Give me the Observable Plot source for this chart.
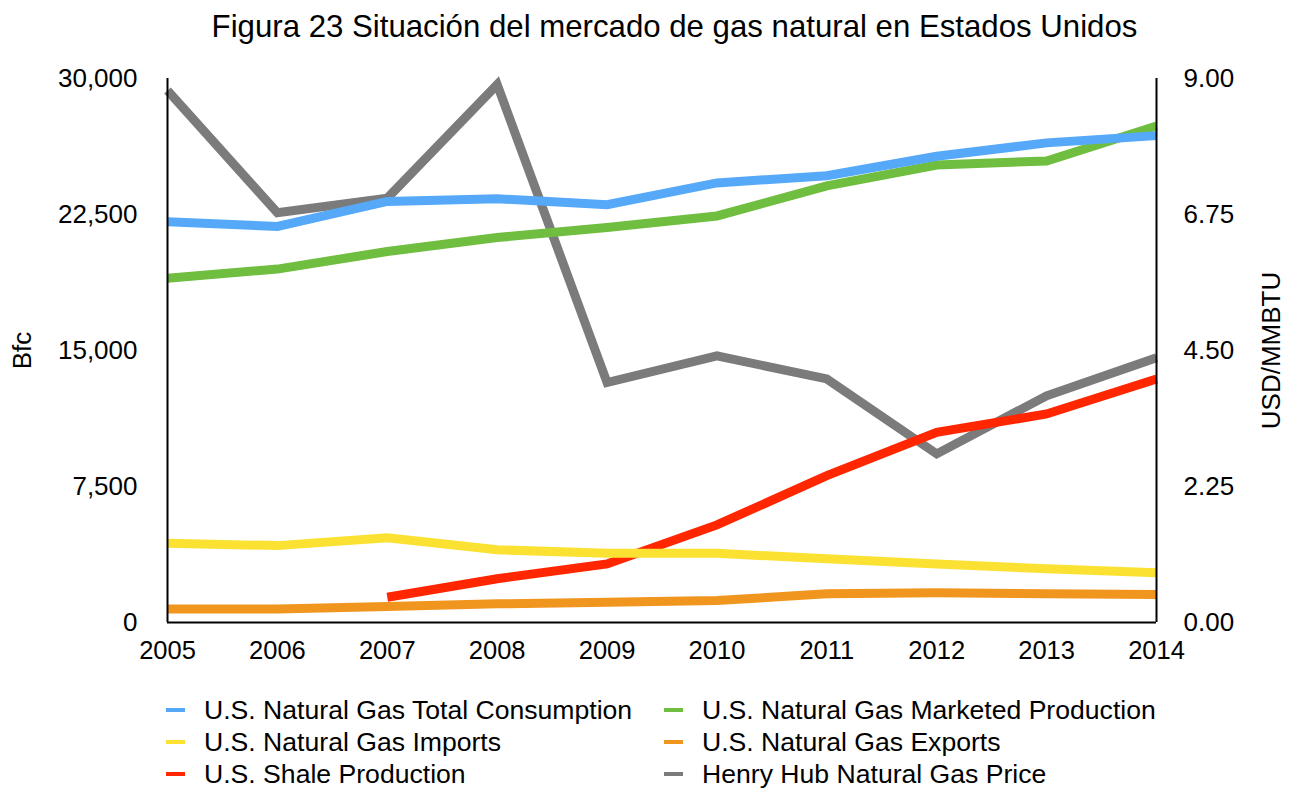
<!DOCTYPE html>
<html>
<head>
<meta charset="utf-8">
<script src="https://cdn.jsdelivr.net/npm/d3@7"></script>
<script src="https://cdn.jsdelivr.net/npm/@observablehq/plot@0.6"></script>
<style>
  body { margin: 0; background: #fff; font-family: "Liberation Sans", Arial, Helvetica, sans-serif; color: #000; }
  #wrap { position: relative; width: 1293px; height: 790px; overflow: hidden; }
  #title { position: absolute; top: 7px; left: 56px; width: 1237px; text-align: center; font-size: 31.2px; line-height: 40px; white-space: nowrap; }
  #chart { position: absolute; top: 56px; left: 0; }
  .lg { position: absolute; height: 32px; display: flex; align-items: center; font-size: 26.6px; white-space: nowrap; }
  .lg .sw { width: 19px; height: 4px; margin-right: 19px; }
</style>
</head>
<body>
<div id="wrap">
  <div id="title">Figura 23 Situación del mercado de gas natural en Estados Unidos</div>
  <div id="chart"></div>
  <div id="legend"></div>
</div>
<script>
// ---- Data ----
const years = [2005, 2006, 2007, 2008, 2009, 2010, 2011, 2012, 2013, 2014];
// Bfc (left axis)
const consumption = [22100, 21840, 23220, 23370, 23040, 24240, 24640, 25710, 26450, 26850];
const production  = [18990, 19490, 20460, 21230, 21780, 22420, 24080, 25230, 25450, 27380];
const imports     = [4370, 4240, 4670, 4010, 3820, 3820, 3510, 3230, 2960, 2740];
const exportsBfc  = [750, 750, 880, 1030, 1120, 1210, 1580, 1640, 1580, 1540];
const shale       = [null, null, 1390, 2410, 3230, 5380, 8100, 10490, 11500, 13430];
// USD/MMBTU (right axis)
const henryHub    = [8.80, 6.78, 7.02, 8.90, 3.97, 4.41, 4.03, 2.79, 3.75, 4.38];

const leftTicks = [0, 7500, 15000, 22500, 30000];
const rightTicks = [0, 2.25, 4.5, 6.75, 9];
const leftMax = 30000, rightMax = 9;

const seriesNames = [
  "U.S. Natural Gas Total Consumption",
  "U.S. Natural Gas Marketed Production",
  "U.S. Natural Gas Imports",
  "U.S. Natural Gas Exports",
  "U.S. Shale Production",
  "Henry Hub Natural Gas Price"
];
const seriesColors = ["#55a9f8", "#6fbe3f", "#fbe232", "#f0961f", "#ff2600", "#7b7b7b"];

// ---- Build tables ----
const toRows = (vals, scale = 1) => years.map((year, i) => ({year, value: vals[i] == null ? null : vals[i] * scale}));
const k = leftMax / rightMax; // map price onto left scale
const seriesData = [consumption, production, imports, exportsBfc, shale, henryHub];
const tables = seriesData.map((vals, i) => toRows(vals, i === 5 ? k : 1));

// drawing order bottom -> top
const drawOrder = [5, 3, 4, 2, 1, 0];
const lineMarks = drawOrder.map(i => Plot.line(tables[i], {
  x: "year", y: "value", stroke: seriesColors[i], strokeWidth: 9,
  strokeLinejoin: "miter", strokeLinecap: "butt", strokeMiterlimit: 10
}));

const chart = Plot.plot({
  width: 1293,
  height: 624,
  marginTop: 22,
  marginBottom: 58,
  marginLeft: 167,
  marginRight: 137,
  style: { fontFamily: "'Liberation Sans', Arial, Helvetica, sans-serif", fontSize: "26px", color: "#000", background: "#fff" },
  x: { domain: [2005, 2014] },
  y: { domain: [0, leftMax] },
  marks: [
    Plot.axisX(years, { tickFormat: d => String(d), tickSize: 0, tickPadding: 18, fontSize: 25.5, label: null }),
    Plot.axisY(leftTicks, { anchor: "left", tickFormat: d3.format(","), tickSize: 0, tickPadding: 30, fontSize: 26, label: null }),
    Plot.axisY(rightTicks.map(v => v * k), { anchor: "right", tickFormat: d => (d / k).toFixed(2), tickSize: 0, tickPadding: 27, fontSize: 26, label: null }),
    ...lineMarks,
    Plot.ruleX([2005, 2014], { stroke: "#000", strokeWidth: 2 }),
    Plot.ruleY([0], { stroke: "#000", strokeWidth: 2 }),
    Plot.text(["Bfc"], { frameAnchor: "left", dx: -145, rotate: -90, textAnchor: "middle", lineAnchor: "middle", text: d => d, fontSize: 26 }),
    Plot.text(["USD/MMBTU"], { frameAnchor: "right", dx: 115, rotate: -90, textAnchor: "middle", lineAnchor: "middle", text: d => d, fontSize: 26 })
  ]
});
document.getElementById("chart").appendChild(chart);

// ---- Legend (HTML, below the SVG) ----
const legend = document.getElementById("legend");
const legendPos = [
  [0, 0], [1, 0],
  [0, 1], [1, 1],
  [0, 2], [1, 2]
];
const colX = [166, 664], rowY = [710, 742, 774];
seriesNames.forEach((name, i) => {
  const [c, r] = legendPos[i];
  const item = document.createElement("div");
  item.className = "lg";
  item.style.left = colX[c] + "px";
  item.style.top = (rowY[r] - 16) + "px";
  const sw = document.createElement("span");
  sw.className = "sw";
  sw.style.background = seriesColors[i];
  const tx = document.createElement("span");
  tx.textContent = name;
  item.appendChild(sw);
  item.appendChild(tx);
  legend.appendChild(item);
});
</script>
</body>
</html>
